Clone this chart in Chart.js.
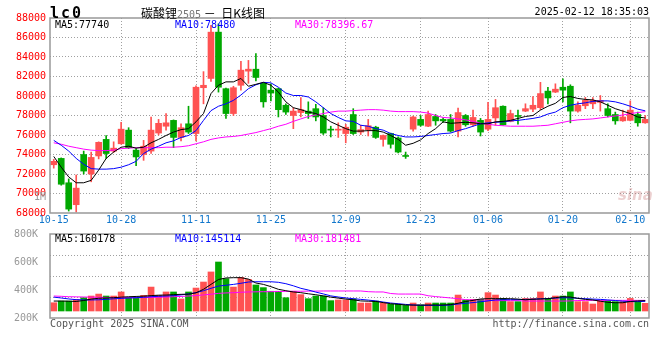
<!DOCTYPE html>
<html>
<head>
<meta charset="utf-8">
<script src="https://cdn.jsdelivr.net/npm/chart.js@4.4.1/dist/chart.umd.min.js"></script>
<style>
  body { margin: 0; background: #fff; }
  #wrap { position: relative; width: 660px; height: 360px; overflow: hidden; font-family: 'DejaVu Sans Mono', monospace; font-size: 10px; }
  #wrap canvas { position: absolute; left: 0; }
  .t { position: absolute; white-space: nowrap; line-height: 12px; }
</style>
</head>
<body>
<div id="wrap">
  <canvas id="kline" width="660" height="232" style="top:0"></canvas>
  <canvas id="vol" width="660" height="140" style="top:220px"></canvas>

  <div class="t" style="left:50px;top:4px;font:bold 15px 'DejaVu Sans Mono';letter-spacing:2px">lc0</div>
  <div class="t" style="left:141px;top:4px;font:12px 'Noto Sans CJK SC'">碳酸锂<span style="font:10px 'DejaVu Sans Mono';color:#777">2505</span>&nbsp;－&nbsp;&nbsp;日K线图</div>
  <div class="t" style="right:11px;top:6px">2025-02-12 18:35:03</div>

  <div class="t" style="left:55px;top:19px;color:#000">MA5:77740</div>
  <div class="t" style="left:175px;top:19px;color:#0000FF">MA10:78480</div>
  <div class="t" style="left:295px;top:19px;color:#FF00FF">MA30:78396.67</div>
  <div class="t" style="right:614px;top:191px;color:#999">1M</div>
  <div class="t" style="left:618px;top:186px;font:italic bold 15px 'DejaVu Sans';color:rgba(200,120,120,0.35)">sina</div>

  <div class="t" style="left:55px;top:233px;color:#000">MA5:160178</div>
  <div class="t" style="left:175px;top:233px;color:#0000FF">MA10:145114</div>
  <div class="t" style="left:295px;top:233px;color:#FF00FF">MA30:181481</div>

  <div class="t" style="left:50px;top:318px;color:#555">Copyright 2025 SINA.COM</div>
  <div class="t" style="right:11px;top:318px;color:#555">http://finance.sina.com.cn</div>
</div>
<script>
const dates = [
  '10-15', '10-16', '10-17', '10-18', '10-21', '10-22', '10-23', '10-24', '10-25', '10-28',
  '10-29', '10-30', '10-31', '11-01', '11-04', '11-05', '11-06', '11-07', '11-08', '11-11',
  '11-12', '11-13', '11-14', '11-15', '11-18', '11-19', '11-20', '11-21', '11-22', '11-25',
  '11-26', '11-27', '11-28', '11-29', '12-02', '12-03', '12-04', '12-05', '12-06', '12-09',
  '12-10', '12-11', '12-12', '12-13', '12-16', '12-17', '12-18', '12-19', '12-20', '12-23',
  '12-24', '12-25', '12-26', '12-27', '12-30', '12-31', '01-02', '01-03', '01-06', '01-07',
  '01-08', '01-09', '01-10', '01-13', '01-14', '01-15', '01-16', '01-17', '01-20', '01-21',
  '01-22', '01-23', '01-24', '01-27', '02-05', '02-06', '02-07', '02-10', '02-11', '02-12',
]
const tickDates = ['10-15', '10-28', '11-11', '11-25', '12-09', '12-23', '01-06', '01-20', '02-10']

const opens = [
  72950, 73600, 71100, 68850, 74000, 72000, 73850, 75550, 74350, 75100,
  76500, 74450, 74000, 74350, 76200, 76900, 77500, 75750, 77150, 76150,
  80850, 81800, 86550, 80750, 78200, 81100, 82550, 82750, 81300, 80600,
  80750, 79050, 78000, 78300, 78450, 78700, 78000, 76600, 76500, 76150,
  78100, 76300, 76550, 76800, 75550, 76150, 75700, 73900, 76600, 77600,
  76900, 77900, 77600, 77600, 76400, 78000, 77050, 77500, 76600, 77750,
  78950, 77400, 77950, 78450, 78650, 78800, 80500, 80400, 80900, 81000,
  78450, 79000, 79200, 79350, 78700, 78100, 77450, 77500, 78100, 77250,
]
const highs = [
  73500, 73650, 71500, 71900, 74350, 74250, 75300, 75950, 75300, 77300,
  76750, 74600, 75450, 77850, 77600, 78200, 77550, 77150, 78950, 81050,
  82500, 87250, 87400, 80800, 81000, 83550, 83650, 84350, 81350, 81250,
  80800, 79200, 78800, 79850, 79400, 79150, 78800, 76900, 77250, 77100,
  78700, 77000, 77600, 76900, 76000, 76200, 75800, 74250, 77950, 78000,
  78450, 78100, 77750, 78100, 78750, 78100, 78550, 77700, 79350, 79650,
  79000, 78550, 78550, 79200, 79950, 81400, 80900, 81250, 81750, 81150,
  79400, 79850, 79850, 80050, 79200, 78350, 78550, 79500, 78350, 78000,
]
const lows = [
  72600, 70850, 68200, 68100, 72000, 71200, 73550, 73600, 74200, 75050,
  74600, 72850, 73400, 74100, 76000, 76500, 74700, 75400, 76150, 75400,
  79200, 81500, 80400, 77700, 78000, 80600, 81300, 81550, 78850, 79500,
  77850, 78100, 76650, 77850, 77700, 77450, 76050, 75800, 75750, 75200,
  76050, 76050, 75900, 75650, 74850, 74650, 74150, 73600, 76400, 76900,
  76850, 77000, 77300, 76300, 75800, 76900, 76900, 75900, 76450, 77000,
  77000, 77350, 77100, 78400, 78400, 78600, 79200, 80350, 79400, 77250,
  78350, 78700, 78700, 78450, 77850, 77100, 77400, 77450, 76900, 77200,
]
const closes = [
  73300, 70950, 68400, 70550, 72300, 73700, 75250, 74100, 74650, 76600,
  74700, 73750, 74850, 76500, 77200, 77250, 75750, 76750, 76300, 80900,
  81100, 86550, 80900, 78200, 80850, 82650, 82750, 81900, 79400, 80300,
  78600, 78350, 78450, 78600, 78200, 77850, 76200, 76500, 76600, 76800,
  76150, 76550, 76950, 75750, 75950, 75050, 74250, 73800, 77850, 77000,
  78100, 77450, 77450, 76400, 78300, 77050, 77800, 76300, 77600, 78800,
  77050, 78200, 77900, 78700, 79050, 80250, 79800, 80700, 80600, 78450,
  79050, 79550, 79550, 79550, 78000, 77450, 77850, 78550, 77250, 77600,
]
const ma5 = [
  73800, 72700, 71700, 71100, 71100, 71350, 72400, 73600, 74250, 74750,
  74850, 74650, 74750, 75200, 75550, 75950, 76300, 76550, 76650, 77350,
  78200, 80250, 81100, 81450, 81450, 81800, 81000, 81200, 81400, 81100,
  80400, 79400, 78800, 78600, 78350, 78200, 77850, 77350, 77000, 76650,
  76400, 76400, 76450, 76450, 76300, 75950, 75550, 74950, 75150, 75500,
  76150, 76650, 77350, 77200, 77250, 77300, 77250, 77150, 77150, 77350,
  77400, 77500, 77700, 77900, 78000, 78550, 78950, 79250, 79850, 79950,
  79750, 79650, 79600, 79400, 79050, 78700, 78450, 78200, 77850, 77740,
]
const ma10 = [
  75450, 74950, 74350, 73600, 73000, 72550, 72500, 72500, 72550, 72700,
  72950, 73300, 74100, 74550, 74850, 75200, 75400, 75750, 75950, 76450,
  77500, 78500, 78950, 79200, 79550, 80100, 80750, 81150, 81400, 81350,
  80900, 80300, 80050, 80050, 79900, 79400, 78800, 78200, 77800, 77450,
  77400, 77000, 76900, 76650, 76500, 76150, 75950, 75800, 75800, 75850,
  75950, 76050, 76150, 76200, 76450, 76650, 76900, 77150, 77250, 77300,
  77350, 77450, 77500, 77600, 77700, 77850, 78150, 78350, 78800, 79050,
  79200, 79300, 79450, 79500, 79500, 79400, 79200, 78950, 78650, 78480,
]
const ma30 = [
  75200, 75050, 74850, 74700, 74550, 74450, 74400, 74400, 74450, 74600,
  74650, 74700, 74700, 74700, 74700, 74750, 74750, 74800, 74900, 75100,
  75300, 75550, 75700, 75800, 75850, 75950, 76100, 76250, 76450, 76650,
  76900, 77100, 77400, 77650, 77900, 78050, 78200, 78350, 78450, 78450,
  78500, 78550, 78600, 78600, 78550, 78450, 78400, 78400, 78400, 78350,
  78250, 78000, 77800, 77750, 77650, 77550, 77400, 77200, 77100, 77000,
  76950, 76900, 76900, 76900, 76900, 76950, 77000, 77150, 77300, 77450,
  77550, 77600, 77650, 77750, 77850, 77950, 78050, 78200, 78300, 78397,
]

// volume, in thousands (axis units)
const volumes = [
  309, 321, 321, 333, 345, 357, 371, 357, 357, 386,
  345, 345, 362, 421, 362, 386, 386, 336, 386, 414,
  457, 529, 600, 481, 421, 490, 476, 436, 417, 391,
  391, 345, 391, 367, 338, 357, 357, 324, 329, 329,
  336, 307, 307, 321, 307, 298, 298, 290, 307, 293,
  307, 307, 307, 307, 364, 329, 333, 333, 381, 364,
  340, 317, 317, 340, 340, 386, 340, 357, 357, 386,
  317, 317, 300, 324, 324, 317, 317, 340, 317, 305,
]
const volMa5 = [
  321, 321, 320, 318, 325, 335, 341, 343, 345, 349,
  352, 354, 356, 360, 363, 364, 367, 369, 370, 380,
  405, 440, 475, 486, 488, 488, 478, 450, 440, 424,
  405, 395, 386, 381, 373, 366, 358, 349, 342, 335,
  330, 322, 320, 318, 310, 302, 298, 293, 292, 292,
  293, 293, 293, 296, 305, 318, 326, 336, 338, 338,
  338, 338, 335, 330, 334, 336, 338, 345, 352, 350,
  340, 333, 329, 320, 312, 309, 309, 318, 322, 324,
]
const volMa10 = [
  349, 343, 336, 331, 329, 329, 330, 333, 337, 340,
  343, 345, 348, 352, 355, 357, 360, 365, 372, 381,
  395, 412, 428, 434, 440, 448, 457, 459, 459, 459,
  455, 445, 430, 412, 400, 385, 372, 358, 350, 343,
  338, 333, 328, 322, 314, 307, 302, 297, 293, 291,
  290, 290, 290, 293, 300, 305, 310, 316, 322, 329,
  331, 331, 331, 333, 334, 337, 339, 342, 345, 344,
  341, 338, 335, 333, 329, 325, 320, 317, 317, 319,
]
const volMa30 = [
  357, 355, 352, 351, 350, 349, 348, 347, 346, 345,
  345, 345, 346, 347, 348, 350, 352, 354, 357, 360,
  365, 370, 376, 379, 381, 384, 386, 387, 388, 388,
  389, 390, 391, 391, 392, 392, 393, 393, 393, 393,
  393, 393, 388, 386, 386, 375, 371, 371, 371, 371,
  359, 353, 348, 343, 338, 331, 329, 329, 326, 324,
  324, 324, 324, 321, 321, 321, 321, 321, 321, 322,
  325, 326, 326, 326, 326, 326, 326, 326, 326, 326,
]
const volBase = 250

const priceTicks = [68000, 70000, 72000, 74000, 76000, 78000, 80000, 82000, 84000, 86000, 88000]
const volTicks = [200, 400, 600, 800]
const volTickLabels = ['200K', '400K', '600K', '800K']

const UP = '#FF5252'
const DOWN = '#00A800'
const GRID = '#A0A0A0'
const FONT = { family: 'DejaVu Sans Mono', size: 10 }

const candleColors = closes.map((c, i) => (c >= opens[i] ? UP : DOWN))

// box round each panel
const frame = {
  id: 'frame',
  afterDatasetsDraw(chart) {
    const { ctx, chartArea: a } = chart
    ctx.save()
    ctx.strokeStyle = '#999'
    ctx.lineWidth = 1.5
    ctx.strokeRect(a.left, a.top, a.right - a.left, a.bottom - a.top)
    ctx.restore()
  },
}

const maLine = (data, color, yAxisID = 'y') => ({
  type: 'line',
  data,
  yAxisID,
  borderColor: color,
  borderWidth: 1,
  pointRadius: 0,
  tension: 0,
  order: 0,
})

const xGrid = {
  offset: false,
  drawTicks: false,
  color: (c) => (c.index > 0 && tickDates.includes(dates[c.index]) ? GRID : 'transparent'),
}

new Chart(document.getElementById('kline'), {
  type: 'bar',
  data: {
    labels: dates,
    datasets: [
      maLine(ma5, '#000000'),
      maLine(ma10, '#0000FF'),
      maLine(ma30, '#FF00FF'),
      {
        data: opens.map((o, i) => [o, closes[i]]),
        backgroundColor: candleColors,
        barThickness: 6,
        minBarLength: 1,
        grouped: false,
        order: 1,
      },
      {
        data: lows.map((l, i) => [l, highs[i]]),
        backgroundColor: candleColors,
        barThickness: 1,
        grouped: false,
        order: 2,
      },
    ],
  },
  options: {
    responsive: false,
    animation: false,
    devicePixelRatio: 1,
    layout: { padding: { top: 18, right: 11, left: 0, bottom: 0 } },
    plugins: { legend: { display: false }, tooltip: { enabled: false } },
    scales: {
      x: {
        offset: true,
        grid: xGrid,
        border: { display: false, dash: [1, 2] },
        ticks: {
          autoSkip: false,
          maxRotation: 0,
          padding: 1,
          color: '#1177CC',
          font: FONT,
          callback: (v, i) => (tickDates.includes(dates[i]) ? dates[i] : ''),
        },
        afterFit: (s) => { s.height = 19 },
      },
      y: {
        min: 68000,
        max: 88000,
        afterBuildTicks: (s) => { s.ticks = priceTicks.map((v) => ({ value: v })) },
        ticks: { color: '#FF0000', padding: 4, font: FONT, callback: (v) => String(v) },
        grid: {
          drawTicks: false,
          color: (c) => (c.tick.value === 68000 || c.tick.value === 88000 ? 'transparent' : GRID),
        },
        border: { display: false, dash: [1, 2] },
        afterFit: (s) => { s.width = 50 },
      },
    },
  },
  plugins: [frame],
})

new Chart(document.getElementById('vol'), {
  type: 'bar',
  data: {
    labels: dates,
    datasets: [
      maLine(volMa5, '#000000'),
      maLine(volMa10, '#0000FF'),
      maLine(volMa30, '#FF00FF'),
      {
        data: volumes,
        base: volBase,
        backgroundColor: candleColors,
        barThickness: 6,
        order: 1,
      },
    ],
  },
  options: {
    responsive: false,
    animation: false,
    devicePixelRatio: 1,
    layout: { padding: { top: 14, right: 11, left: 0, bottom: 42 } },
    plugins: { legend: { display: false }, tooltip: { enabled: false } },
    scales: {
      x: {
        offset: true,
        grid: xGrid,
        border: { display: false, dash: [1, 2] },
        ticks: { display: false },
        afterFit: (s) => { s.height = 0 },
      },
      y: {
        min: 200,
        max: 800,
        afterBuildTicks: (s) => { s.ticks = volTicks.map((v) => ({ value: v })) },
        ticks: { color: '#999', padding: 4, font: FONT, callback: (v, i) => volTickLabels[i] },
        grid: { display: false },
        border: { display: false },
        afterFit: (s) => { s.width = 50 },
      },
      g: {
        position: 'left',
        min: 0,
        max: 4,
        ticks: { display: false, stepSize: 1 },
        grid: {
          drawTicks: false,
          color: (c) => (c.tick.value === 0 || c.tick.value === 4 ? 'transparent' : GRID),
        },
        border: { display: false, dash: [1, 2] },
        afterFit: (s) => { s.width = 0 },
      },
    },
  },
  plugins: [frame],
})
</script>
</body>
</html>
